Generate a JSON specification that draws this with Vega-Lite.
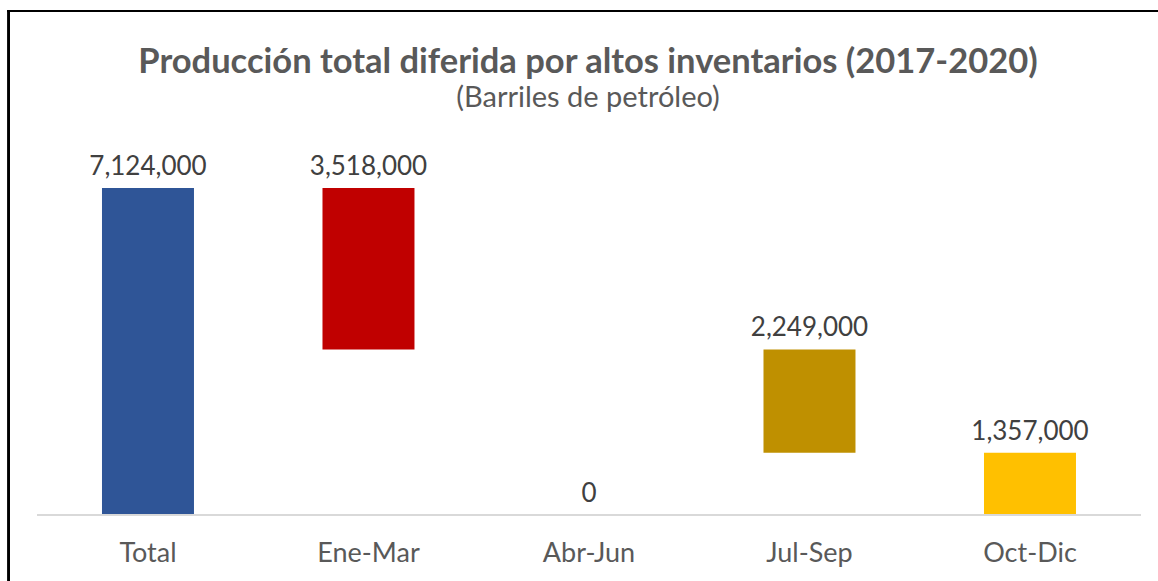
{
  "$schema": "https://vega.github.io/schema/vega-lite/v6.json",
  "autosize": {"type": "none"},
  "padding": {"left": 8, "top": 11, "right": 0, "bottom": 0},
  "width": 1150,
  "height": 570,
  "background": "white",
  "config": {
    "view": {"stroke": null},
    "font": "Lato",
    "axisX": {
      "domain": false,
      "ticks": false,
      "tickSize": 0,
      "grid": false,
      "labelAngle": 0,
      "labelFont": "Lato",
      "labelFontSize": 27,
      "labelColor": "#595959",
      "labelBaseline": "alphabetic",
      "labelPadding": -20,
      "titleOpacity": 0
    },
    "axisY": {
      "labels": false,
      "ticks": false,
      "grid": false,
      "domain": false,
      "titleOpacity": 0
    }
  },
  "title": {
    "text": "Producción total diferida por altos inventarios (2017-2020)",
    "subtitle": "(Barriles de petróleo)",
    "anchor": "middle",
    "frame": "group",
    "font": "Lato",
    "fontSize": 34.5,
    "fontWeight": "bold",
    "color": "#595959",
    "subtitleFont": "Lato",
    "subtitleFontSize": 29,
    "subtitleColor": "#595959",
    "subtitlePadding": 4,
    "offset": -104,
    "dx": 5
  },
  "data": {
    "values": [
      {"categoria": "Total", "inicio": 0, "fin": 7124000, "valor": 7124000},
      {"categoria": "Ene-Mar", "inicio": 3606000, "fin": 7124000, "valor": 3518000},
      {"categoria": "Abr-Jun", "inicio": 0, "fin": 0, "valor": 0},
      {"categoria": "Jul-Sep", "inicio": 1357000, "fin": 3606000, "valor": 2249000},
      {"categoria": "Oct-Dic", "inicio": 0, "fin": 1357000, "valor": 1357000}
    ]
  },
  "layer": [
    {
      "mark": {"type": "bar"},
      "encoding": {
        "x": {
          "field": "categoria",
          "type": "nominal",
          "sort": null,
          "title": null,
          "scale": {"paddingInner": 0.5828, "paddingOuter": 0.3991, "align": 0.534}
        },
        "y": {
          "field": "inicio",
          "type": "quantitative",
          "title": null,
          "scale": {"domain": [-1437870, 10980000], "nice": false, "zero": false}
        },
        "y2": {"field": "fin"},
        "color": {
          "field": "categoria",
          "type": "nominal",
          "scale": {
            "domain": ["Total", "Ene-Mar", "Abr-Jun", "Jul-Sep", "Oct-Dic"],
            "range": ["#2F5597", "#C00000", "#A5A5A5", "#BF9000", "#FFC000"]
          },
          "legend": null
        }
      }
    },
    {
      "mark": {"type": "text", "font": "Lato", "fontSize": 26, "color": "#404040", "baseline": "alphabetic", "dy": -13},
      "encoding": {
        "x": {"field": "categoria", "type": "nominal", "sort": null, "title": null},
        "y": {"field": "fin", "type": "quantitative", "title": null},
        "text": {"field": "valor", "type": "quantitative", "format": ","}
      }
    },
    {
      "mark": {"type": "rule", "color": "#D9D9D9", "strokeWidth": 1.5},
      "encoding": {
        "x": {"datum": "Total", "bandPosition": -0.7065, "title": null},
        "x2": {"datum": "Oct-Dic", "bandPosition": 1.7065},
        "y": {"datum": 0, "title": null}
      }
    },
    {
      "mark": {"type": "rule", "color": "#000000", "strokeWidth": 2},
      "encoding": {
        "x": {"datum": "Total", "bandPosition": -1.03, "title": null},
        "x2": {"datum": "Oct-Dic", "bandPosition": 2.2},
        "y": {"datum": 10980000, "title": null}
      }
    },
    {
      "mark": {"type": "rule", "color": "#000000", "strokeWidth": 2},
      "encoding": {
        "x": {"datum": "Total", "bandPosition": -1.015, "title": null}
      }
    }
  ]
}
